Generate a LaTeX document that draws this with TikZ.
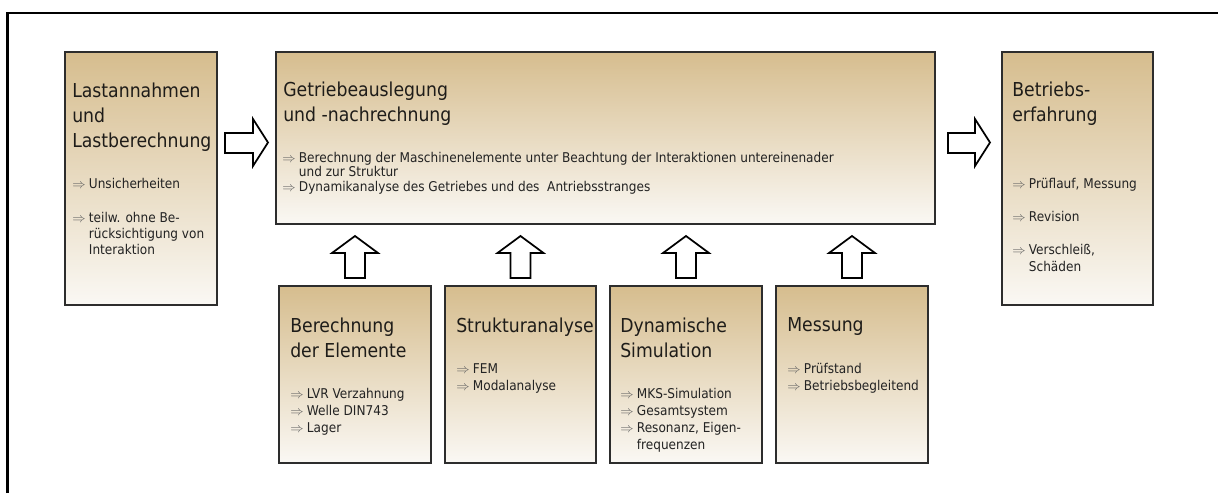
\documentclass[tikz,border=0pt]{standalone}
\usepackage{fontspec}
\setmainfont{DejaVu Sans Condensed}
\definecolor{tantop}{RGB}{214,189,142}
\definecolor{tanbot}{RGB}{250,248,244}
\definecolor{boxline}{RGB}{45,45,45}
\definecolor{txt}{RGB}{30,28,25}
\definecolor{btxt}{RGB}{35,35,35}
\definecolor{arcol}{RGB}{95,95,95}
\newcommand{\ttl}{\fontsize{14.4}{18.75}\selectfont}
\newcommand{\bsz}[1]{\fontsize{10.1}{#1}\selectfont}
\newcommand{\ar}{\textcolor{arcol}{$\Rightarrow$}}
\begin{document}
\begin{tikzpicture}[x=0.75pt,y=-0.75pt,
  box/.style={draw=boxline,line width=1.6pt,top color=tantop,bottom color=tanbot,inner sep=0pt},
  ttlnode/.style={anchor=base west,inner sep=0pt,text=txt,font=\ttl},
  bnode/.style={anchor=base west,inner sep=0pt,text=btxt},
  hollow/.style={draw=black,line width=1.3pt,fill=white,line join=miter}]
\useasboundingbox (0,0) rectangle (1218,493);
\draw[line width=1.6pt] (7.5,493) |- (1218,13);
% boxes
\node[box,minimum width=152*0.75pt,minimum height=253*0.75pt] (L) at (141,178.5) {};
\node[box,minimum width=659*0.75pt,minimum height=172*0.75pt] (M) at (605.5,138) {};
\node[box,minimum width=151*0.75pt,minimum height=253*0.75pt] (R) at (1077.5,178.5) {};
\node[box,minimum width=152*0.75pt,minimum height=177*0.75pt] (B1) at (355,374.5) {};
\node[box,minimum width=151*0.75pt,minimum height=177*0.75pt] (B2) at (520.5,374.5) {};
\node[box,minimum width=152*0.75pt,minimum height=177*0.75pt] (B3) at (686,374.5) {};
\node[box,minimum width=152*0.75pt,minimum height=177*0.75pt] (B4) at (852,374.5) {};
% hollow arrows
\draw[hollow] (225,133) -- (253,133) -- (253,119) -- (268,142.5) -- (253,166) -- (253,153) -- (225,153) -- cycle;
\draw[hollow] (948,133) -- (975,133) -- (975,119) -- (990,142.5) -- (975,166) -- (975,153) -- (948,153) -- cycle;
\foreach \cx in {355,520.5,686,852}{
  \draw[hollow] (\cx-10,278) -- (\cx-10,253) -- (\cx-23,253) -- (\cx,236) -- (\cx+23,253) -- (\cx+10,253) -- (\cx+10,278) -- cycle;
}
% titles
\node[ttlnode] (Lt) at (72,97) {\begin{tabular}[t]{@{}l@{}}Lastannahmen\\und\\Lastberechnung\end{tabular}};
\node[ttlnode] (Mt) at (283,96) {\begin{tabular}[t]{@{}l@{}}Getriebeauslegung\\und -nachrechnung\end{tabular}};
\node[ttlnode] (Rt) at (1012,96) {\begin{tabular}[t]{@{}l@{}}Betriebs-\\erfahrung\end{tabular}};
\node[ttlnode] (B1t) at (290,332) {\begin{tabular}[t]{@{}l@{}}Berechnung\\der Elemente\end{tabular}};
\node[ttlnode] (B2t) at (456,332) {\begin{tabular}[t]{@{}l@{}}Strukturanalyse\end{tabular}};
\node[ttlnode] (B3t) at (620,332) {\begin{tabular}[t]{@{}l@{}}Dynamische\\Simulation\end{tabular}};
\node[ttlnode] (B4t) at (787,331) {\begin{tabular}[t]{@{}l@{}}Messung\end{tabular}};
% bullets
\node[bnode] (Lb) at (72,188) {\bsz{12}\begin{tabular}[t]{@{}l@{\hspace{2.5pt}}l@{}}\ar & Unsicherheiten\\[14pt]
\ar & teilw. ohne Be-\\ & rücksichtigung von\\ & Interaktion\end{tabular}};
\node[bnode] (Mb) at (282,162) {\bsz{10.9}\begin{tabular}[t]{@{}l@{\hspace{2.5pt}}l@{}}\ar & Berechnung der Maschinenelemente unter Beachtung der Interaktionen untereinenader\\ & und zur Struktur\\
\ar & Dynamikanalyse des Getriebes und des \ Antriebsstranges\end{tabular}};
\node[bnode] (Rb) at (1012,188) {\bsz{12.5}\begin{tabular}[t]{@{}l@{\hspace{2.5pt}}l@{}}\ar & Prüflauf, Messung\\[12.5pt]
\ar & Revision\\[12.5pt] \ar & Verschleiß,\\ & Schäden\end{tabular}};
\node[bnode] (B1b) at (290,398) {\bsz{12.75}\begin{tabular}[t]{@{}l@{\hspace{2.5pt}}l@{}}\ar & LVR Verzahnung\\ \ar & Welle DIN743\\ \ar & Lager\end{tabular}};
\node[bnode] (B2b) at (456,373) {\bsz{12.75}\begin{tabular}[t]{@{}l@{\hspace{2.5pt}}l@{}}\ar & FEM\\ \ar & Modalanalyse\end{tabular}};
\node[bnode] (B3b) at (620,398) {\bsz{12.75}\begin{tabular}[t]{@{}l@{\hspace{2.5pt}}l@{}}\ar & MKS-Simulation\\ \ar & Gesamtsystem\\ \ar & Resonanz, Eigen-\\ & frequenzen\end{tabular}};
\node[bnode] (B4b) at (787,373) {\bsz{12.75}\begin{tabular}[t]{@{}l@{\hspace{2.5pt}}l@{}}\ar & Prüfstand\\ \ar & Betriebsbegleitend\end{tabular}};
\end{tikzpicture}
\end{document}
